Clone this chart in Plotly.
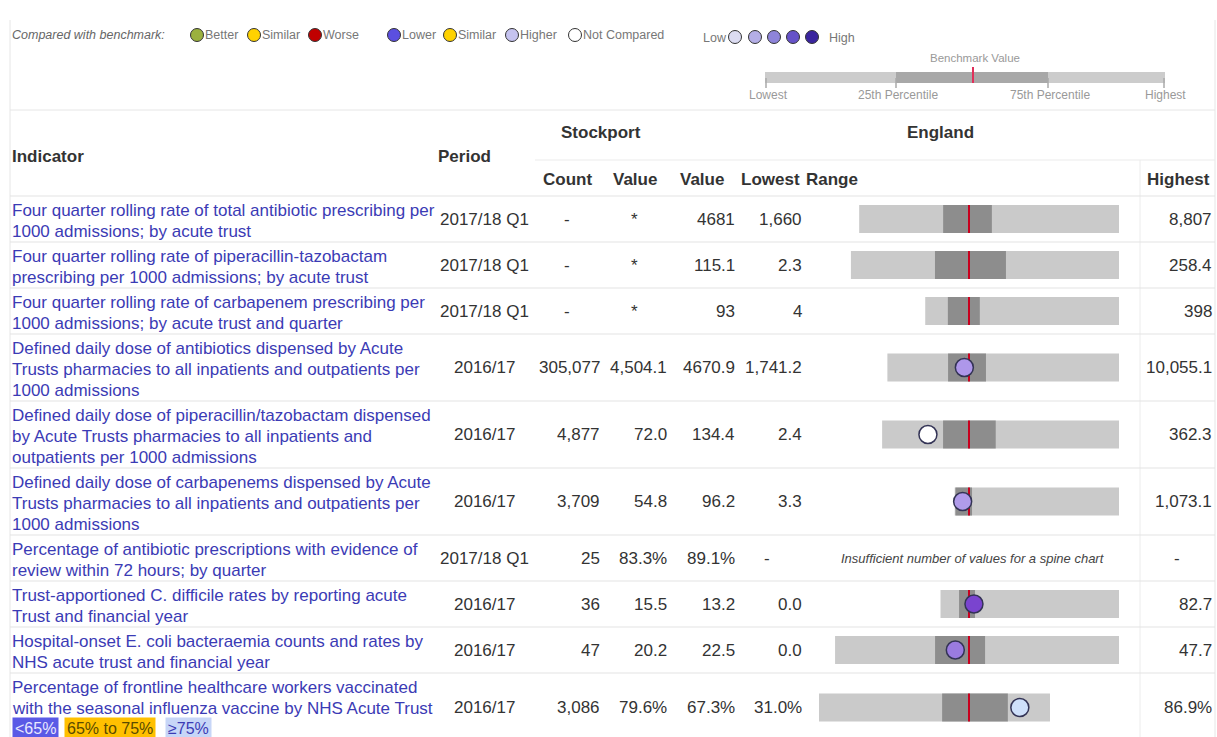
import plotly.graph_objects as go

W, H = 1217, 737

# ---- table data ----
indicators = [
    ["Four quarter rolling rate of total antibiotic prescribing per", "1000 admissions; by acute trust"],
    ["Four quarter rolling rate of piperacillin-tazobactam", "prescribing per 1000 admissions; by acute trust"],
    ["Four quarter rolling rate of carbapenem prescribing per", "1000 admissions; by acute trust and quarter"],
    ["Defined daily dose of antibiotics dispensed by Acute", "Trusts pharmacies to all inpatients and outpatients per", "1000 admissions"],
    ["Defined daily dose of piperacillin/tazobactam dispensed", "by Acute Trusts pharmacies to all inpatients and", "outpatients per 1000 admissions"],
    ["Defined daily dose of carbapenems dispensed by Acute", "Trusts pharmacies to all inpatients and outpatients per", "1000 admissions"],
    ["Percentage of antibiotic prescriptions with evidence of", "review within 72 hours; by quarter"],
    ["Trust-apportioned C. difficile rates by reporting acute", "Trust and financial year"],
    ["Hospital-onset E. coli bacteraemia counts and rates by", "NHS acute trust and financial year"],
    ["Percentage of frontline healthcare workers vaccinated", "with the seasonal influenza vaccine by NHS Acute Trust"],
]
periods = ["2017/18 Q1", "2017/18 Q1", "2017/18 Q1", "2016/17", "2016/17",
           "2016/17", "2017/18 Q1", "2016/17", "2016/17", "2016/17"]
count_txt = ["-", "-", "-", "305,077", "4,877", "3,709", "25", "36", "47", "3,086"]
local_txt = ["*", "*", "*", "4,504.1", "72.0", "54.8", "83.3%", "15.5", "20.2", "79.6%"]
eng_txt = ["4681", "115.1", "93", "4670.9", "134.4", "96.2", "89.1%", "13.2", "22.5", "67.3%"]
low_txt = ["1,660", "2.3", "4", "1,741.2", "2.4", "3.3", "-", "0.0", "0.0", "31.0%"]
high_txt = ["8,807", "258.4", "398", "10,055.1", "362.3", "1,073.1", "-", "82.7", "47.7", "86.9%"]

# spine chart values (None = no spine chart / no marker)
eng_value = [4681, 115.1, 93, 4670.9, 134.4, 96.2, None, 13.2, 22.5, 67.3]
eng_lowest = [1660, 2.3, 4, 1741.2, 2.4, 3.3, None, 0.0, 0.0, 31.0]
eng_highest = [8807, 258.4, 398, 10055.1, 362.3, 1073.1, None, 82.7, 47.7, 86.9]
eng_q1 = [3970, 82.6, 50, 3920, 95, 8, None, 8.6, 16.8, 60.8]
eng_q3 = [5310, 150.4, 115, 5280, 175, 116, None, 16, 25.2, 76.7]
local_value = [None, None, None, 4504.1, 72.0, 54.8, None, 15.5, 20.2, 79.6]
marker_colors = [None, None, None, "#ae97ea", "#ffffff", "#b09bea", None, "#7a44cf", "#9a7be0", "#cfe0fa"]

FONT = "Liberation Sans, Arial, Helvetica, sans-serif"
IND_COL = "#3b3bb5"
TXT_COL = "#333333"
FS = 17

# row geometry (pixels, top of table body at 196)
row_h = {2: 46, 3: 67}
tops, centers = [], []
y = 196
for ind in indicators:
    n = 3 if len(ind) == 3 or ind is indicators[-1] else 2
    tops.append(y)
    centers.append(y + row_h[n] / 2)
    y += row_h[n]
tops.append(y)


def norm(v, i):
    b = eng_value[i]
    s = max(abs(eng_lowest[i] - b), abs(eng_highest[i] - b))
    return (v - b) / s


fig = go.Figure()

rows = [i for i in range(len(indicators)) if eng_value[i] is not None]
yc = [centers[i] + (1 if i == len(indicators) - 1 else 0) for i in rows]

# light range bars (lowest..highest)
fig.add_trace(go.Bar(
    orientation="h", y=yc,
    base=[norm(eng_lowest[i], i) for i in rows],
    x=[norm(eng_highest[i], i) - norm(eng_lowest[i], i) for i in rows],
    width=28, marker=dict(color="#cacaca", line=dict(width=0)),
    xaxis="x", yaxis="y", hoverinfo="skip"))
# dark interquartile bars
fig.add_trace(go.Bar(
    orientation="h", y=yc,
    base=[norm(eng_q1[i], i) for i in rows],
    x=[norm(eng_q3[i], i) - norm(eng_q1[i], i) for i in rows],
    width=28, marker=dict(color="#8d8d8d", line=dict(width=0)),
    xaxis="x", yaxis="y", hoverinfo="skip"))
# benchmark red line
bx, by = [], []
for i, c in zip(rows, yc):
    bx += [norm(eng_value[i], i)] * 2 + [None]
    by += [c - 14, c + 14, None]
fig.add_trace(go.Scatter(x=bx, y=by, mode="lines", line=dict(color="#c8001e", width=2),
                         xaxis="x", yaxis="y", hoverinfo="skip"))
# local area markers
mrows = [(i, c) for i, c in zip(rows, yc) if local_value[i] is not None]
fig.add_trace(go.Scatter(
    x=[norm(local_value[i], i) for i, c in mrows], y=[c for i, c in mrows],
    mode="markers",
    marker=dict(size=18, color=[marker_colors[i] for i, c in mrows],
                line=dict(color="#333355", width=1.5)),
    xaxis="x", yaxis="y", hoverinfo="skip"))

# ---- top legend ----
leg_items = [("Better", "#9bb13e", 197), ("Similar", "#ffd200", 254), ("Worse", "#c00000", 315),
             ("Lower", "#5b4fe0", 394), ("Similar", "#ffd200", 450), ("Higher", "#c5c3f0", 512),
             ("Not Compared", "#ffffff", 575)]
quint_colors = ["#dcdcf2", "#b4aee6", "#8e84da", "#6652c8", "#3a249e"]
quint_x = [735, 755, 774, 793, 812]
fig.add_trace(go.Scatter(
    x=[it[2] for it in leg_items] + quint_x,
    y=[35] * len(leg_items) + [37] * len(quint_x),
    mode="markers",
    marker=dict(size=13, color=[it[1] for it in leg_items] + quint_colors,
                line=dict(color="#333333", width=1)),
    xaxis="x2", yaxis="y", hoverinfo="skip"))

ann = []


def txt(x, y, s, anchor="left", size=FS, color=TXT_COL, bold=False, italic=False, **kw):
    if bold:
        s = "<b>" + s + "</b>"
    if italic:
        s = "<i>" + s + "</i>"
    # compensate for annotation padding
    if anchor == "left":
        x -= 2
    elif anchor == "right":
        x += 2
    ann.append(dict(x=x, y=y, xref="x2", yref="y", text=s, showarrow=False,
                    xanchor=anchor, yanchor="middle",
                    font=dict(family=FONT, size=size, color=color), **kw))


txt(12, 35, "Compared with benchmark:", size=12.5, color="#666666", italic=True)
for name, col, cx in leg_items:
    txt(cx + 8, 35, name, size=12.5, color="#777777")
txt(727, 38, "Low", anchor="right", size=12.5, color="#777777")
txt(829, 38, "High", size=12.5, color="#777777")

# benchmark key (small spine)
shapes = []


def rect(x0, x1, y0, y1, col):
    shapes.append(dict(type="rect", xref="x2", yref="y", x0=x0, x1=x1, y0=y0, y1=y1,
                       fillcolor=col, line=dict(width=0), layer="below"))


def hline(x0, x1, yy, col="#e4e4e4", w=1):
    shapes.append(dict(type="line", xref="x2", yref="y", x0=x0, x1=x1, y0=yy, y1=yy,
                       line=dict(color=col, width=w), layer="below"))


def vline(xx, y0, y1, col="#e4e4e4", w=1):
    shapes.append(dict(type="line", xref="x2", yref="y", x0=xx, x1=xx, y0=y0, y1=y1,
                       line=dict(color=col, width=w), layer="below"))


rect(765, 1165, 72, 83, "#cccccc")
rect(896, 1048, 72, 83, "#a8a8a8")
vline(973, 67, 83, "#e0305a", 2)
for tx in (766, 896, 1048, 1164):
    vline(tx, 78, 88, "#aaaaaa", 1.5)
txt(975, 58, "Benchmark Value", anchor="center", size=11.5, color="#999999")
for tx, lab in ((768, "Lowest"), (898, "25th Percentile"), (1050, "75th Percentile"), (1165, "Highest")):
    txt(tx, 95, lab, anchor="center", size=12, color="#999999")

# frame / grid lines
vline(10, 20, 737, "#e6e6e6")
vline(1215, 20, 737, "#e6e6e6")
hline(10, 1215, 110, "#e6e6e6")
hline(535, 1215, 160, "#ebebeb")
vline(1140, 160, 737, "#ececec")
for t in tops[:-1]:
    hline(10, 1215, t, "#e3e3e3")

# header
txt(12, 156, "Indicator", bold=True)
txt(438, 156, "Period", bold=True)
txt(601, 132, "Stockport", anchor="center", bold=True)
txt(940, 132, "England", anchor="center", bold=True)
for hx, lab in ((543, "Count"), (613, "Value"), (680, "Value"), (741, "Lowest"), (806, "Range"), (1147, "Highest")):
    txt(hx, 179, lab, bold=True)

# body
for i, ind in enumerate(indicators):
    for k, line in enumerate(ind):
        txt(12, tops[i] + 14 + 21 * k, line, color=IND_COL)
    c = centers[i] + (1 if i == len(indicators) - 1 else 0)
    txt(484, c, periods[i], anchor="center")
    for s, xr, xc in ((count_txt[i], 600, 567), (local_txt[i], 667, 634),
                      (eng_txt[i], 735, 702), (low_txt[i], 802, 767), (high_txt[i], 1212, 1177)):
        if s in ("-", "*"):
            txt(xc, c, s, anchor="center")
        else:
            txt(xr, c, s, anchor="right")
    if eng_value[i] is None:
        txt(973, c, "Insufficient number of values for a spine chart", anchor="center",
            size=13, italic=True, color="#444444")

# percentage legend under last row
for x0, lab, bg, fg in ((12, "&lt;65%", "#5a5ae6", "#e8e8ff"), (64, "65% to 75%", "#ffc000", "#5a4a00"),
                        (165, "≥75%", "#c7d6f7", "#3b3bb5")):
    ann.append(dict(x=x0, y=728, xref="x2", yref="y", text=lab, showarrow=False,
                    xanchor="left", yanchor="middle", bgcolor=bg, borderpad=2,
                    font=dict(family=FONT, size=16, color=fg)))

fig.update_layout(
    width=W, height=H, margin=dict(l=0, r=0, t=0, b=0),
    paper_bgcolor="white", plot_bgcolor="rgba(0,0,0,0)",
    barmode="overlay", showlegend=False,
    xaxis=dict(domain=[819 / W, 1119 / W], range=[-1, 1], visible=False, fixedrange=True),
    xaxis2=dict(domain=[0, 1], range=[0, W], visible=False, anchor="y", fixedrange=True),
    yaxis=dict(domain=[0, 1], range=[H, 0], visible=False, fixedrange=True),
    annotations=ann, shapes=shapes,
)

# page body has a default 8px margin; drop it so the figure fills the window
fig.write_html("out.html", config={"displayModeBar": False},
               post_script="document.body.style.margin='0';")
